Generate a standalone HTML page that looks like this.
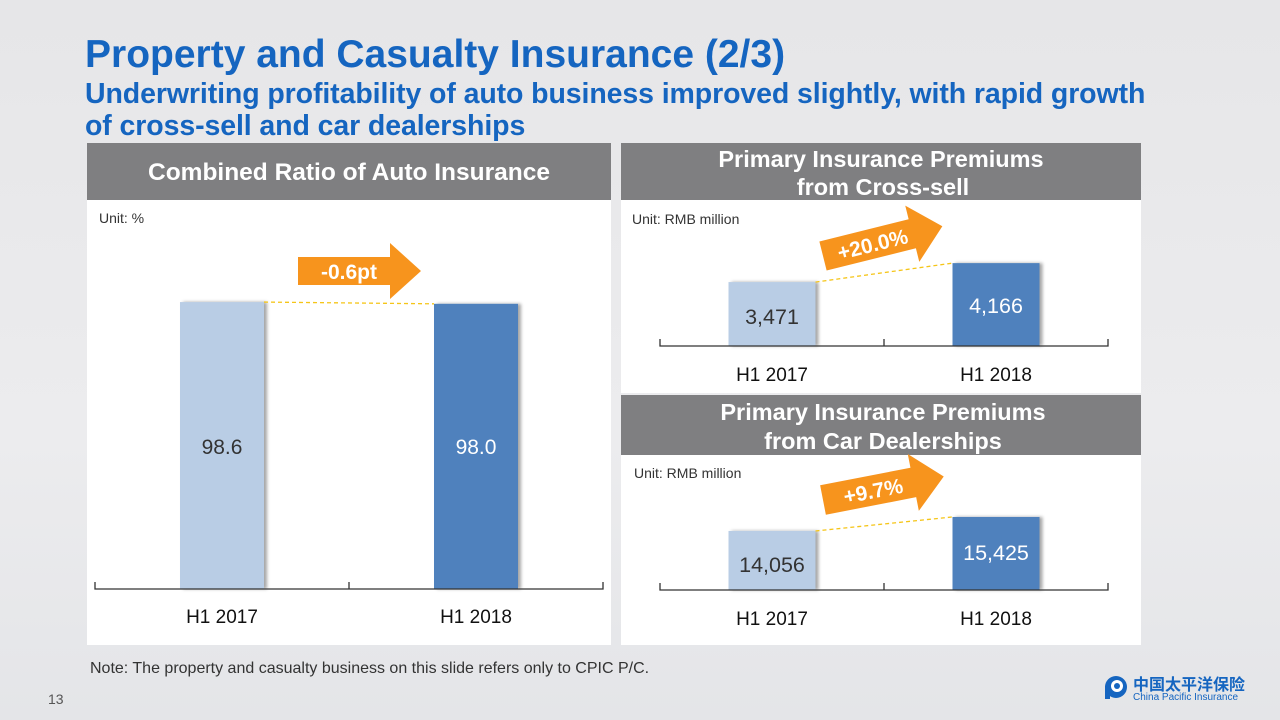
<!DOCTYPE html>
<html><head><meta charset="utf-8"><style>
body{margin:0;width:1280px;height:720px;overflow:hidden;background:#e9e9eb;font-family:"Liberation Sans",Arial,sans-serif;position:relative}
.t{position:absolute;margin:0;color:#1565c0;font-weight:bold;white-space:nowrap}
svg{position:absolute;left:0;top:0}
</style></head><body>
<div style="position:absolute;left:0;top:0;width:1280px;height:720px;background:linear-gradient(180deg,#e6e6e8 0%,#ececee 60%,#e4e5e8 100%)"></div>
<h1 class="t" style="left:85px;top:33px;font-size:39px;line-height:44px">Property and Casualty Insurance (2/3)</h1>
<h2 class="t" style="left:85px;top:78px;font-size:28.5px;line-height:32px;letter-spacing:-0.1px">Underwriting profitability of auto business improved slightly, with rapid growth<br>of cross-sell and car dealerships</h2>
<svg width="1280" height="720" id="s">
<defs><filter id="sh" x="-10%" y="-10%" width="130%" height="120%"><feDropShadow dx="3" dy="0" stdDeviation="1.5" flood-color="#000" flood-opacity="0.35"/></filter></defs>
<rect x="87" y="200" width="524" height="445" fill="#fff"/>
<rect x="87" y="143" width="524" height="57" fill="#7f7f81"/>
<text x="349" y="180" text-anchor="middle" fill="#fff" font-size="24.5" font-weight="bold">Combined Ratio of Auto Insurance</text>
<rect x="621" y="200" width="520" height="193" fill="#fff"/>
<rect x="621" y="143" width="520" height="57" fill="#7f7f81"/>
<text x="881" y="167" text-anchor="middle" fill="#fff" font-size="23.5" font-weight="bold">Primary Insurance Premiums</text>
<text x="883" y="195" text-anchor="middle" fill="#fff" font-size="23.5" font-weight="bold">from Cross-sell</text>
<rect x="621" y="455" width="520" height="190" fill="#fff"/>
<rect x="621" y="395" width="520" height="60" fill="#7f7f81"/>
<text x="883" y="420" text-anchor="middle" fill="#fff" font-size="23.5" font-weight="bold">Primary Insurance Premiums</text>
<text x="883" y="449" text-anchor="middle" fill="#fff" font-size="23.5" font-weight="bold">from Car Dealerships</text>
<text x="99" y="223" font-size="14" fill="#333">Unit: %</text>
<text x="632" y="224" font-size="14" fill="#333">Unit: RMB million</text>
<text x="634" y="478" font-size="14" fill="#333">Unit: RMB million</text>
<text x="90" y="673" font-size="16" fill="#333">Note: The property and casualty business on this slide refers only to CPIC P/C.</text>
<text x="48" y="704" font-size="14" fill="#555">13</text>
<g>
<circle cx="1116" cy="687" r="11" fill="#1565c0"/><circle cx="1117" cy="686" r="6" fill="#fff"/><circle cx="1117" cy="686" r="3" fill="#1565c0"/><rect x="1105" y="686" width="5" height="13" fill="#1565c0"/>
<text x="1133" y="690" font-size="16" font-weight="bold" fill="#1565c0" font-family="Noto Sans CJK SC,sans-serif">中国太平洋保险</text>
<text x="1133" y="700" font-size="10" fill="#1565c0">China Pacific Insurance</text>
</g>
<g id="charts"></g>
</svg>
<script>
const categories = ["H1 2017", "H1 2018"];
const ratioValues = [98.6, 98.0];
const ratioLabels = ["98.6", "98.0"];
const crossValues = [3471, 4166];
const crossLabels = ["3,471", "4,166"];
const dealerValues = [14056, 15425];
const dealerLabels = ["14,056", "15,425"];
const changeLabels = ["-0.6pt", "+20.0%", "+9.7%"];

const NS = "http://www.w3.org/2000/svg";
const G = document.getElementById("charts");
function mk(tag, attrs, parent){const e=document.createElementNS(NS,tag);for(const k in attrs)e.setAttribute(k,attrs[k]);(parent||G).appendChild(e);return e;}
const colors=["#b9cde5","#4f81bd"];
const textColors=["#333","#fff"];

function chart(cfg, values, labels, change){
  const g=mk("g",{});
  
  
  const y = v => cfg.base - (v - cfg.min) * cfg.k;
  const n=categories.length, step=(cfg.x1-cfg.x0)/n;
  const xc = i => cfg.x0 + step*(i+0.5);
  const tops=[];
  values.forEach((v,i)=>{
    const r=mk("rect",{x:xc(i)-cfg.bw/2,y:y(v),width:cfg.bw,height:cfg.base-y(v),fill:colors[i],filter:"url(#sh)"},g);
    
    
    tops.push([xc(i),y(v)]);
    const t=mk("text",{x:xc(i),y:cfg.labelY?cfg.labelY:(y(v)+cfg.vOff[i]),"text-anchor":"middle","font-size":cfg.fs,fill:textColors[i]},g);
    t.textContent=labels[i];
    
    
    const c=mk("text",{x:xc(i),y:cfg.catY,"text-anchor":"middle","font-size":19,fill:"#111"},g);
    c.textContent=categories[i];
    
    
  });
  const ax=mk("path",{d:`M${cfg.x0},${cfg.base-7}V${cfg.base}H${cfg.x1}V${cfg.base-7}M${(cfg.x0+cfg.x1)/2},${cfg.base}v-7`,stroke:"#333","stroke-width":1.3,fill:"none"},g);
  
  
  const dl=mk("line",{x1:tops[0][0]+cfg.bw/2,y1:tops[0][1],x2:tops[1][0]-cfg.bw/2,y2:tops[1][1],stroke:"#f5c518","stroke-width":1.3,"stroke-dasharray":"4,3"},g);
  
  
  const a=cfg.arrow;
  const ag=mk("g",{transform:`translate(${a.x},${a.y}) rotate(${a.rot})`},g);
  
  
  mk("path",{d:`M0,${-a.h/2}H${a.w}V${-a.h/2-14}L${a.w+31},0L${a.w},${a.h/2+14}V${a.h/2}H0Z`,fill:"#f7941d"},ag);
  const ct=mk("text",{x:a.w/2+5,y:8,"text-anchor":"middle","font-size":a.fs,"font-weight":"bold",fill:"#fff"},ag);
  ct.textContent=change;
  
  
}
chart({name:"combined-ratio-chart",x0:95,x1:603,base:589,min:0,k:2.91,bw:84,fs:21,labelY:454,catY:623,
  arrow:{x:298,y:271,rot:0,w:92,h:28,fs:21}},ratioValues,ratioLabels,changeLabels[0]);
chart({name:"cross-sell-chart",x0:660,x1:1108,base:346,min:1130,k:0.0273,bw:87,fs:21.5,vOff:[42,50],catY:381,
  arrow:{x:823,y:256,rot:-14,w:92,h:30,fs:21}},crossValues,crossLabels,changeLabels[1]);
chart({name:"car-dealership-chart",x0:660,x1:1108,base:590,min:8286,k:0.01023,bw:87,fs:21.5,vOff:[41,43],catY:625,
  arrow:{x:823,y:500,rot:-11,w:92,h:30,fs:21}},dealerValues,dealerLabels,changeLabels[2]);
</script>
</body></html>
